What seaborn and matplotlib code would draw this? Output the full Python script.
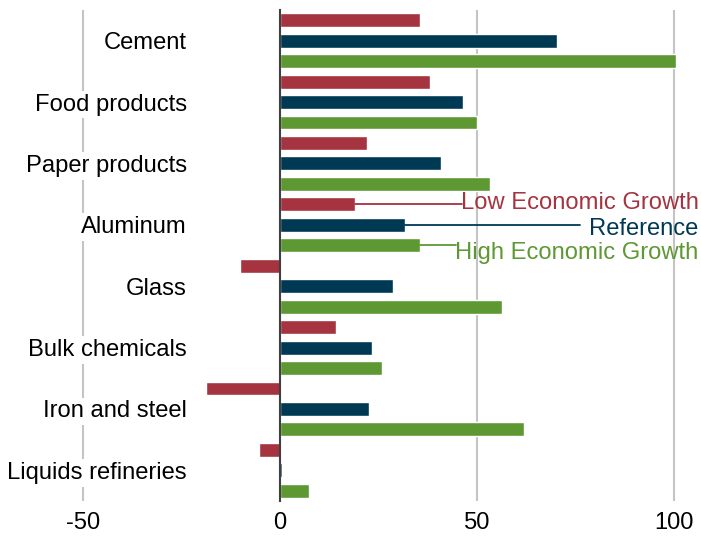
import numpy as np
import pandas as pd
import matplotlib
matplotlib.use("Agg")
import matplotlib.pyplot as plt
import seaborn as sns

#### data (percent change) #########################################
sectors = ["Cement", "Food products", "Paper products", "Aluminum",
           "Glass", "Bulk chemicals", "Iron and steel", "Liquids refineries"]
scenarios = ["Low Economic Growth", "Reference", "High Economic Growth"]
low_growth = [35.5, 38.1, 22.1, 19.0, -10.2, 14.2, -18.8, -5.3]
reference = [70.3, 46.4, 40.9, 31.7, 28.7, 23.4, 22.6, 0.5]
high_growth = [100.5, 50.0, 53.3, 35.5, 56.3, 25.9, 61.9, 7.3]
xticks = [-50, 0, 50, 100]

colors = ["#A53340", "#003954", "#5E9833"]

df = pd.DataFrame({
    "sector": sectors * 3,
    "scenario": np.repeat(scenarios, len(sectors)),
    "value": low_growth + reference + high_growth,
})

#### plot ##########################################################
sns.set_style("white")
plt.rcParams["font.family"] = ["Liberation Sans", "DejaVu Sans"]
plt.rcParams["text.color"] = "black"
plt.rcParams["xtick.color"] = "black"
plt.rcParams["ytick.color"] = "black"
fs = 17.1

fig = plt.figure(figsize=(7.01, 5.37), dpi=100)
ax = fig.add_axes([0, 1 - 501 / 537, 1, 491 / 537])

sns.barplot(data=df, x="value", y="sector", hue="scenario", orient="h",
            order=sectors, hue_order=scenarios, palette=colors, saturation=1,
            width=1.0, gap=0.32, legend=False, ax=ax, zorder=3)

ax.set_xlim(-71.1, 106.9)
ax.set_ylim(len(sectors) - 0.5, -0.5)
ax.set_xlabel("")
ax.set_ylabel("")

# spines / grid
for s in ["top", "right", "bottom"]:
    ax.spines[s].set_visible(False)
ax.spines["left"].set_position(("data", 0))
ax.spines["left"].set_color("#404040")
ax.spines["left"].set_linewidth(1.5)
ax.spines["left"].set_zorder(4)

ax.set_xticks(xticks)
ax.set_xticklabels([str(t) for t in xticks], fontsize=fs)
ax.tick_params(axis="x", length=0, pad=8, labelcolor="black")
ax.xaxis.grid(True, color="#c4c4c4", linewidth=1.5)
ax.set_axisbelow(True)

ax.set_yticks(range(len(sectors)))
ax.set_yticks(np.arange(-0.5, len(sectors)), minor=True)
ax.set_yticklabels(sectors, fontsize=fs)
ax.tick_params(axis="y", which="major", length=0, pad=67, labelcolor="black")
ax.tick_params(axis="y", which="minor", length=6, width=1.5, color="#404040")
for lbl in ax.get_yticklabels():
    lbl.set_bbox(dict(facecolor="white", edgecolor="none", pad=2))

# direct labels on the Aluminum group
i = sectors.index("Aluminum")
vals = [low_growth[i], reference[i], high_growth[i]]
line_y = [i - 1 / 3, i, i + 1 / 3]
line_end = [46.2, 76.1, 44.7]
text_y = [i - 0.36, i + 0.07, i + 0.46]
for v, ly, le, ty, name, c in zip(vals, line_y, line_end, text_y, scenarios, colors):
    ax.plot([v, le], [ly, ly], color=c, linewidth=1.3, zorder=4)
    ax.text(106.3, ty, name, color=c, fontsize=fs, ha="right", va="center", zorder=5)

fig.savefig("out.png", dpi=100)
